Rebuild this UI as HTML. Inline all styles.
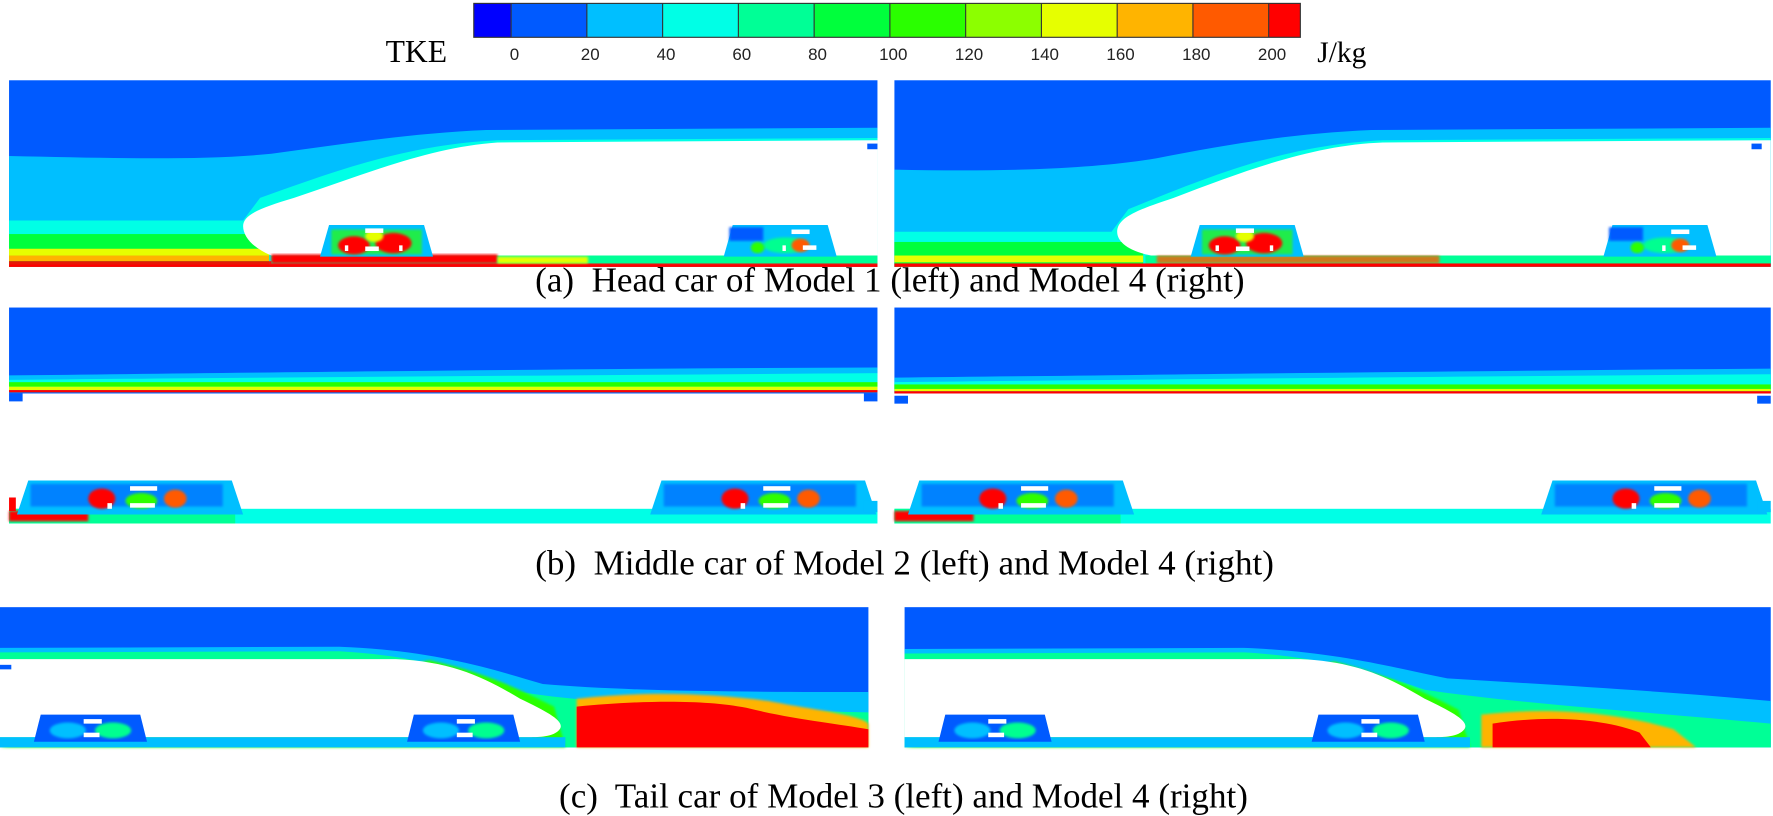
<!DOCTYPE html>
<html><head><meta charset="utf-8"><style>
html,body{margin:0;padding:0;background:#fff;overflow:hidden;}
svg{display:block;}
text{font-family:"Liberation Serif",serif;}
</style></head><body>
<svg width="1773" height="816" viewBox="0 0 1568 721.7" preserveAspectRatio="none" xmlns="http://www.w3.org/2000/svg">
<defs>
<filter id="b"><feGaussianBlur stdDeviation="1.2"/></filter>
<g id="bogieA">
  <polygon points="0,28 8,0 92,0 100,28" fill="#00bfff"/>
  <rect x="10" y="4" width="80" height="22" fill="#2dff00" opacity=".7" filter="url(#b)"/>
  <ellipse cx="30" cy="18" rx="14" ry="8" fill="#ff0000" filter="url(#b)"/>
  <ellipse cx="65" cy="16" rx="16" ry="9" fill="#ff0000" filter="url(#b)"/>
  <ellipse cx="48" cy="10" rx="8" ry="5" fill="#e6ff00" filter="url(#b)"/>
  <rect x="40" y="3" width="16" height="4" fill="#fff"/>
  <rect x="40" y="19" width="12" height="4" fill="#fff"/>
  <rect x="22" y="18" width="3" height="5" fill="#fff"/>
  <rect x="70" y="18" width="3" height="5" fill="#fff"/>
</g>
<g id="bogieB">
  <polygon points="0,28 8,0 92,0 100,28" fill="#00bfff"/>
  <rect x="5" y="2" width="30" height="12" fill="#005aff" filter="url(#b)"/>
  <ellipse cx="55" cy="18" rx="20" ry="7" fill="#00ff90" filter="url(#b)"/>
  <ellipse cx="68" cy="18" rx="8" ry="6" fill="#ff5a00" filter="url(#b)"/>
  <ellipse cx="30" cy="20" rx="6" ry="5" fill="#2dff00" filter="url(#b)"/>
  <rect x="60" y="4" width="16" height="4" fill="#fff"/>
  <rect x="70" y="18" width="12" height="4" fill="#fff"/>
  <rect x="52" y="18" width="3" height="5" fill="#fff"/>
</g>
<g id="bogieC">
  <polygon points="0,30 10,0 190,0 200,30" fill="#00bfff"/>
  <rect x="12" y="3" width="170" height="20" fill="#005aff" opacity=".6" filter="url(#b)"/>
  <ellipse cx="75" cy="16" rx="12" ry="9" fill="#ff0000" filter="url(#b)"/>
  <ellipse cx="140" cy="16" rx="10" ry="8" fill="#ff5a00" filter="url(#b)"/>
  <ellipse cx="110" cy="18" rx="14" ry="7" fill="#2dff00" filter="url(#b)"/>
  <rect x="100" y="5" width="24" height="4" fill="#fff"/>
  <rect x="100" y="20" width="22" height="4" fill="#fff"/>
  <rect x="80" y="20" width="4" height="5" fill="#fff"/>
</g>
<g id="bogieT">
  <polygon points="0,24 6,0 94,0 100,24" fill="#005aff"/>
  <ellipse cx="30" cy="14" rx="16" ry="7" fill="#00bfff" filter="url(#b)"/>
  <ellipse cx="70" cy="14" rx="16" ry="7" fill="#00ff90" filter="url(#b)"/>
  <rect x="44" y="4" width="16" height="4" fill="#fff"/>
  <rect x="44" y="16" width="14" height="4" fill="#fff"/>
</g>
</defs>

<!-- Legend -->
<rect x="419" y="3" width="33" height="30" fill="#0000ff"/>
<rect x="452" y="3" width="67" height="30" fill="#005aff"/>
<rect x="519" y="3" width="67" height="30" fill="#00bfff"/>
<rect x="586" y="3" width="67" height="30" fill="#00ffe6"/>
<rect x="653" y="3" width="67" height="30" fill="#00ff96"/>
<rect x="720" y="3" width="67" height="30" fill="#00ff3c"/>
<rect x="787" y="3" width="67" height="30" fill="#2aff00"/>
<rect x="854" y="3" width="67" height="30" fill="#8cff00"/>
<rect x="921" y="3" width="67" height="30" fill="#e6ff00"/>
<rect x="988" y="3" width="67" height="30" fill="#ffb400"/>
<rect x="1055" y="3" width="67" height="30" fill="#ff5a00"/>
<rect x="1122" y="3" width="28" height="30" fill="#ff0000"/>
<g stroke="#333" stroke-width="1">
<rect x="419" y="3" width="731" height="30" fill="none"/>
<line x1="452" y1="3" x2="452" y2="33"/><line x1="519" y1="3" x2="519" y2="33"/><line x1="586" y1="3" x2="586" y2="33"/><line x1="653" y1="3" x2="653" y2="33"/><line x1="720" y1="3" x2="720" y2="33"/><line x1="787" y1="3" x2="787" y2="33"/><line x1="854" y1="3" x2="854" y2="33"/><line x1="921" y1="3" x2="921" y2="33"/><line x1="988" y1="3" x2="988" y2="33"/><line x1="1055" y1="3" x2="1055" y2="33"/><line x1="1122" y1="3" x2="1122" y2="33"/>
</g>
<g font-size="15" fill="#222" text-anchor="middle">
<text x="455" y="53" style="font-family:'Liberation Sans',sans-serif">0</text>
<text x="522" y="53" style="font-family:'Liberation Sans',sans-serif">20</text>
<text x="589" y="53" style="font-family:'Liberation Sans',sans-serif">40</text>
<text x="656" y="53" style="font-family:'Liberation Sans',sans-serif">60</text>
<text x="723" y="53" style="font-family:'Liberation Sans',sans-serif">80</text>
<text x="790" y="53" style="font-family:'Liberation Sans',sans-serif">100</text>
<text x="857" y="53" style="font-family:'Liberation Sans',sans-serif">120</text>
<text x="924" y="53" style="font-family:'Liberation Sans',sans-serif">140</text>
<text x="991" y="53" style="font-family:'Liberation Sans',sans-serif">160</text>
<text x="1058" y="53" style="font-family:'Liberation Sans',sans-serif">180</text>
<text x="1125" y="53" style="font-family:'Liberation Sans',sans-serif">200</text>
</g>
<text x="341" y="55" font-size="28">TKE</text>
<text x="1165" y="55" font-size="26">J/kg</text>

<!-- (a) panels -->
<g>
<rect x="8" y="71" width="768" height="165" fill="#005aff"/>
<path d="M8,138 C100,140 180,142 240,136 C300,128 360,118 430,115 L776,113 L776,236 L8,236 Z" fill="#00bfff"/>
<path d="M8,195 L215,195 L230,175 C300,150 360,128 440,124 L776,122 L776,236 L8,236Z" fill="#00ffe6"/>
<rect x="8" y="207" width="230" height="29" fill="#00ff3c"/>
<rect x="8" y="220" width="230" height="6" fill="#e6ff00"/>
<rect x="8" y="226" width="230" height="5" fill="#ffb400"/>
<rect x="8" y="231" width="768" height="5" fill="#ff0000" opacity=".9"/>
<path d="M215,200 C215,190 230,184 260,175 C320,155 380,130 440,126 L776,124 L776,226 L240,226 C225,220 215,210 215,200Z" fill="#fff"/>
<rect x="240" y="226" width="536" height="7" fill="#00ff96"/>
<rect x="240" y="225" width="200" height="8" fill="#ff0000" filter="url(#b)"/>
<rect x="440" y="227" width="80" height="6" fill="#e6ff00" filter="url(#b)"/>
<use href="#bogieA" x="283" y="199"/>
<use href="#bogieB" x="640" y="199"/>
<rect x="767" y="127" width="9" height="5" fill="#005aff"/>
<rect x="8" y="234" width="768" height="2" fill="#ff0000"/>
</g>
<g transform="translate(783,0)">
<rect x="8" y="71" width="775" height="165" fill="#005aff"/>
<path d="M8,150 C100,152 180,150 240,140 C300,128 360,118 430,115 L783,113 L783,236 L8,236 Z" fill="#00bfff"/>
<path d="M8,205 L200,205 L215,185 C300,150 360,128 440,124 L783,122 L783,236 L8,236Z" fill="#00ffe6"/>
<rect x="8" y="214" width="220" height="22" fill="#00ff3c"/>
<rect x="8" y="226" width="220" height="6" fill="#e6ff00"/>
<path d="M205,205 C205,192 225,185 255,175 C320,150 380,128 440,126 L783,124 L783,226 L235,226 C215,222 205,214 205,205Z" fill="#fff"/>
<rect x="230" y="226" width="553" height="7" fill="#00ff96"/>
<rect x="240" y="226" width="250" height="7" fill="#ff5a00" filter="url(#b)" opacity=".8"/>
<use href="#bogieA" x="270" y="199"/>
<use href="#bogieB" x="635" y="199"/>
<rect x="766" y="127" width="9" height="5" fill="#005aff"/>
<rect x="8" y="233" width="775" height="3" fill="#ff0000"/>
</g>
<text x="787" y="258" font-size="31" text-anchor="middle">(a)&#160; Head car of Model 1 (left) and Model 4 (right)</text>

<!-- (b) panels -->
<g>
<rect x="8" y="272" width="768" height="76" fill="#005aff"/>
<path d="M8,332 C200,330 500,326 776,325 L776,347 L8,347Z" fill="#00bfff"/>
<path d="M8,336 C200,334 500,332 776,330 L776,347 L8,347Z" fill="#00ffe6"/>
<rect x="8" y="338" width="768" height="4" fill="#2aff00"/>
<rect x="8" y="342" width="768" height="3" fill="#e6ff00"/>
<rect x="8" y="345" width="768" height="2" fill="#ff0000"/>
<rect x="8" y="348" width="12" height="7" fill="#005aff"/>
<rect x="764" y="348" width="12" height="7" fill="#005aff"/>
<rect x="8" y="450" width="768" height="13" fill="#00ffe6"/>
<rect x="8" y="450" width="200" height="13" fill="#00ff96"/>
<rect x="8" y="452" width="70" height="9" fill="#ff0000" filter="url(#b)"/>
<rect x="8" y="440" width="6" height="12" fill="#ff0000"/>
<use href="#bogieC" x="15" y="425"/>
<use href="#bogieC" x="575" y="425"/>
<rect x="764" y="443" width="12" height="10" fill="#00bfff"/>
</g>
<g transform="translate(783,0)">
<rect x="8" y="272" width="775" height="76" fill="#005aff"/>
<path d="M8,334 C200,332 500,328 783,326 L783,347 L8,347Z" fill="#00bfff"/>
<path d="M8,338 C200,336 500,333 783,331 L783,347 L8,347Z" fill="#00ffe6"/>
<rect x="8" y="340" width="775" height="4" fill="#2aff00"/>
<rect x="8" y="344" width="775" height="2" fill="#e6ff00"/>
<rect x="8" y="346" width="775" height="2" fill="#ff0000"/>
<rect x="8" y="350" width="12" height="7" fill="#005aff"/>
<rect x="771" y="350" width="12" height="7" fill="#005aff"/>
<rect x="8" y="450" width="775" height="13" fill="#00ffe6"/>
<rect x="8" y="450" width="200" height="13" fill="#00ff96"/>
<rect x="8" y="452" width="70" height="9" fill="#ff0000" filter="url(#b)"/>
<use href="#bogieC" x="20" y="425"/>
<use href="#bogieC" x="580" y="425"/>
<rect x="771" y="443" width="12" height="10" fill="#00bfff"/>
</g>
<text x="800" y="508" font-size="31" text-anchor="middle">(b)&#160; Middle car of Model 2 (left) and Model 4 (right)</text>

<!-- (c) panels -->
<g>
<rect x="0" y="537" width="768" height="124" fill="#005aff"/>
<path d="M0,573 L300,572 C380,575 430,590 480,605 C560,612 680,612 768,612 L768,661 L0,661Z" fill="#00bfff"/>
<path d="M0,577 L300,576 C370,580 420,595 460,612 C540,625 680,628 768,630 L768,661 L0,661Z" fill="#00ff96"/>
<path d="M380,584 C430,595 460,610 490,625 L500,661 L0,661Z" fill="#2aff00" filter="url(#b)"/>
<path d="M510,618 C560,612 620,612 680,620 C720,628 760,632 768,640 L768,661 L510,661Z" fill="#ffb400" filter="url(#b)"/>
<path d="M510,625 C560,620 620,618 660,626 C700,636 740,640 768,645 L768,661 L510,661Z" fill="#ff0000"/>
<path d="M0,583 L350,583 C400,585 430,600 460,618 C485,630 500,638 495,645 C490,652 475,652 470,652 L0,652Z" fill="#fff"/>
<rect x="0" y="652" width="500" height="9" fill="#00bfff"/>
<rect x="0" y="588" width="10" height="4" fill="#005aff"/>
<use href="#bogieT" x="30" y="632"/>
<use href="#bogieT" x="360" y="632"/>
</g>
<g>
<rect x="800" y="537" width="766" height="124" fill="#005aff"/>
<path d="M800,574 L1100,573 C1180,576 1230,590 1280,600 C1380,606 1480,612 1566,620 L1566,661 L800,661Z" fill="#00bfff"/>
<path d="M800,578 L1100,577 C1170,581 1220,596 1260,610 C1340,622 1460,630 1566,640 L1566,661 L800,661Z" fill="#00ff96"/>
<path d="M1180,585 C1230,598 1260,612 1290,628 L1300,661 L800,661Z" fill="#2aff00" filter="url(#b)"/>
<path d="M1310,632 C1370,625 1430,630 1480,645 L1500,661 L1310,661Z" fill="#ffb400" filter="url(#b)"/>
<path d="M1320,640 C1370,632 1420,636 1450,648 L1460,661 L1320,661Z" fill="#ff0000"/>
<path d="M800,583 L1150,583 C1200,585 1230,600 1260,618 C1285,630 1300,638 1295,645 C1290,652 1275,652 1270,652 L800,652Z" fill="#fff"/>
<rect x="800" y="652" width="500" height="9" fill="#00bfff"/>
<use href="#bogieT" x="830" y="632"/>
<use href="#bogieT" x="1160" y="632"/>
</g>
<text x="799" y="714" font-size="31" text-anchor="middle">(c)&#160; Tail car of Model 3 (left) and Model 4 (right)</text>
</svg>
</body></html>
